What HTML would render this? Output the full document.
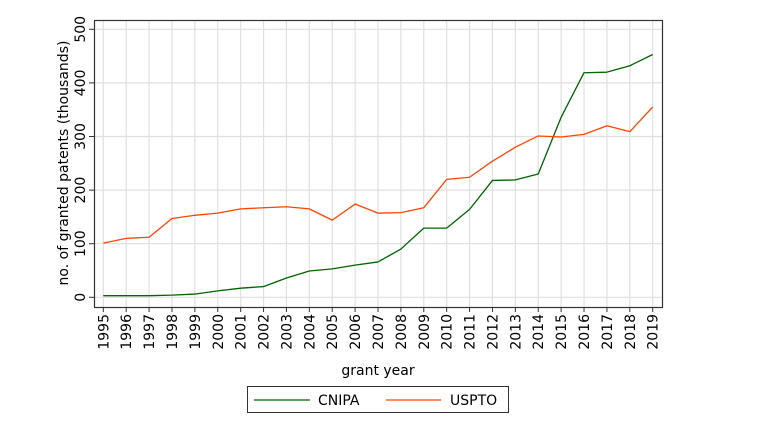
<!DOCTYPE html>
<html><head><meta charset="utf-8"><style>
html,body{margin:0;padding:0;background:#fff;}
svg{display:block;font-family:"DejaVu Sans","Liberation Sans",sans-serif;}
</style></head><body>
<svg id="chart" width="768" height="440" viewBox="0 0 768 440">
<rect x="0" y="0" width="768" height="440" fill="#fff"/>
<g id="grid"></g>
<g id="lines"></g>
<rect x="94.5" y="20.5" width="568" height="287" fill="none" stroke="#333" stroke-width="1.2"/>
<g id="axes"></g>
<text x="0" y="0" transform="translate(68,163) rotate(-90)" text-anchor="middle" font-size="14" fill="#000">no. of granted patents (thousands)</text>
<text x="378" y="375" text-anchor="middle" font-size="14" fill="#000">grant year</text>
<g>
<rect x="247.5" y="386.5" width="261" height="26" fill="#fff" stroke="#333" stroke-width="1"/>
<line x1="254" y1="400" x2="310" y2="400" stroke="#006400" stroke-width="1.3"/>
<text x="318" y="405" font-size="14">CNIPA</text>
<line x1="386" y1="400" x2="441" y2="400" stroke="#ff4500" stroke-width="1.3"/>
<text x="450" y="405" font-size="14">USPTO</text>
</g>
</svg>
<script>
const years = [1995,1996,1997,1998,1999,2000,2001,2002,2003,2004,2005,2006,2007,2008,2009,2010,2011,2012,2013,2014,2015,2016,2017,2018,2019];
const cnipa = [3,3,3,4,6,12,17,20,36,49,53,60,66,90,129,129,164,218,219,230,336,419,420,432,453];
const uspto = [101,110,112,147,153,157,165,167,169,165,144,174,157,158,167,220,224,254,280,301,299,304,320,309,355];
const yTicks = [0,100,200,300,400,500];

const NS = "http://www.w3.org/2000/svg";
const x = yr => 103.3 + (yr - 1995) * (549.4 / 24);
const y = v => 297.3 - v * 0.536;
function mk(tag, attrs, parent){ const e=document.createElementNS(NS,tag); for(const k in attrs) e.setAttribute(k,attrs[k]); parent.appendChild(e); return e; }
const grid=document.getElementById('grid'), axes=document.getElementById('axes'), lines=document.getElementById('lines');

yTicks.forEach(t=>{
  const g = mk('line',{x1:95,x2:662,y1:y(t),y2:y(t),stroke:'#e0e0e0','stroke-width':1.2},grid);
  
  
  const tk = mk('line',{x1:89,x2:94,y1:y(t),y2:y(t),stroke:'#333'},axes);
  
  
  const lb = mk('text',{transform:`translate(85,${y(t)}) rotate(-90)`,'text-anchor':'middle','font-size':14},axes);
  lb.textContent = t;
  
  
});
years.forEach(yr=>{
  const g = mk('line',{x1:x(yr),x2:x(yr),y1:21,y2:307,stroke:'#e0e0e0','stroke-width':1.2},grid);
  
  
  const tk = mk('line',{x1:x(yr),x2:x(yr),y1:307,y2:312,stroke:'#333'},axes);
  
  
  const lb = mk('text',{transform:`translate(${x(yr)+5},314) rotate(-90)`,'text-anchor':'end','font-size':14},axes);
  lb.textContent = yr;
  
  
});
function series(vals,color,name){
  const p = mk('polyline',{points:vals.map((v,i)=>x(years[i])+','+y(v)).join(' '),fill:'none',stroke:color,'stroke-width':1.3,'stroke-linejoin':'round'},lines);
  
  
}
series(cnipa,'#006400','cnipa-line');
series(uspto,'#ff4500','uspto-line');
</script>
</body></html>
